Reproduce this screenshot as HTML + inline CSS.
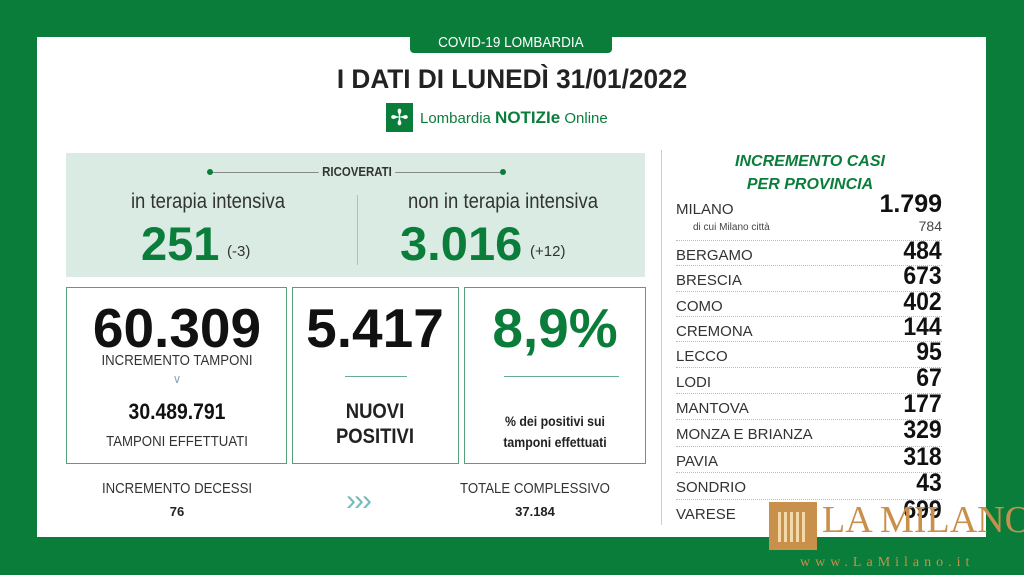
<!DOCTYPE html>
<html><head><meta charset="utf-8"><style>
body{margin:0;width:1024px;height:575px;background:#0b7d3b;position:relative;overflow:hidden;font-family:"Liberation Sans",sans-serif}
.a{position:absolute;white-space:nowrap}
.c{transform:translateX(-50%)}
.n{transform:translateX(-50%) scaleX(.88)}
.g{color:#0b7d3b}
.row{position:absolute;left:676px;width:266px;font-size:15px;color:#333;border-top:1px dotted #bbb;height:25px}
.row span{position:absolute;right:0;top:-4px;font-size:25px;font-weight:bold;color:#111;transform-origin:100% 0;transform:scaleX(.92)}
.row b{font-weight:normal;position:absolute;left:0;top:6px}
</style></head><body>
<div class="a" style="left:37px;top:37px;width:949px;height:500px;background:#fff"></div>
<div class="a" style="left:410px;top:33px;width:202px;height:20px;background:#0b7d3b;border-radius:0 0 4px 4px;color:#fff;font-size:15px;text-align:center;line-height:20px"><span style="display:inline-block;transform:scaleX(.9)">COVID-19 LOMBARDIA</span></div>
<div class="a c" style="left:512px;top:64px;font-size:27px;font-weight:bold;color:#222;transform:translateX(-50%) scaleX(.97)">I DATI DI LUNEDÌ 31/01/2022</div>
<div class="a" style="left:386px;top:103px;width:27px;height:29px;background:#0b7d3b;color:#fff;font-size:22px;text-align:center;line-height:29px">✢</div>
<div class="a" style="left:420px;top:108px;font-size:15px;color:#0b7d3b">Lombardia <b style="font-size:17px">NOTIZIe</b> Online</div>

<div class="a" style="left:66px;top:153px;width:579px;height:124px;background:#d9ebe3"></div>
<div class="a" style="left:212px;top:172px;width:290px;height:1px;background:#888"></div>
<div class="a" style="left:207px;top:169px;width:6px;height:6px;border-radius:50%;background:#0b7d3b"></div>
<div class="a" style="left:500px;top:169px;width:6px;height:6px;border-radius:50%;background:#0b7d3b"></div>
<div class="a n" style="left:357px;top:164px;background:#d9ebe3;padding:0 4px;font-size:13px;font-weight:bold;color:#333">RICOVERATI</div>
<div class="a" style="left:357px;top:195px;width:1px;height:70px;background:#bbb"></div>
<div class="a n" style="left:208px;top:190px;font-size:21px;color:#333">in terapia intensiva</div>
<div class="a n" style="left:503px;top:190px;font-size:21px;color:#333">non in terapia intensiva</div>
<div class="a g" style="left:141px;top:216px;font-size:47px;font-weight:bold">251</div>
<div class="a" style="left:227px;top:243px;font-size:15px;color:#333">(-3)</div>
<div class="a g" style="left:400px;top:216px;font-size:47px;font-weight:bold;transform-origin:0 0;transform:scaleX(1.04)">3.016</div>
<div class="a" style="left:530px;top:243px;font-size:15px;color:#333">(+12)</div>

<div class="a" style="left:66px;top:287px;width:219px;height:175px;border:1px solid #5a9f7c"></div>
<div class="a" style="left:292px;top:287px;width:165px;height:175px;border:1px solid #5a9f7c"></div>
<div class="a" style="left:464px;top:287px;width:180px;height:175px;border:1px solid #5a9f7c"></div>
<div class="a c" style="left:177px;top:296px;font-size:55px;font-weight:bold;color:#111">60.309</div>
<div class="a n" style="left:177px;top:352px;font-size:15px;color:#333">INCREMENTO TAMPONI</div>
<div class="a c" style="left:177px;top:372px;font-size:12px;color:#8ab">∨</div>
<div class="a n" style="left:177px;top:399px;font-size:22px;font-weight:bold;color:#111">30.489.791</div>
<div class="a n" style="left:177px;top:433px;font-size:15px;color:#333">TAMPONI EFFETTUATI</div>
<div class="a c" style="left:375px;top:296px;font-size:55px;font-weight:bold;color:#111">5.417</div>
<div class="a" style="left:345px;top:376px;width:62px;height:1px;background:#6a9"></div>
<div class="a n" style="left:375px;top:399px;font-size:21px;font-weight:bold;color:#222;text-align:center;line-height:25px">NUOVI<br>POSITIVI</div>
<div class="a c g" style="left:555px;top:296px;font-size:55px;font-weight:bold">8,9%</div>
<div class="a" style="left:504px;top:376px;width:115px;height:1px;background:#6a9"></div>
<div class="a n" style="left:555px;top:411px;font-size:14px;font-weight:bold;color:#222;text-align:center;line-height:21px">% dei positivi sui<br>tamponi effettuati</div>
<div class="a n" style="left:177px;top:480px;font-size:15px;color:#333">INCREMENTO DECESSI</div>
<div class="a c" style="left:177px;top:504px;font-size:13px;font-weight:bold;color:#222">76</div>
<div class="a c" style="left:358px;top:484px;font-size:30px;color:#7bb;letter-spacing:-2px">›››</div>
<div class="a n" style="left:535px;top:480px;font-size:15px;color:#333">TOTALE COMPLESSIVO</div>
<div class="a c" style="left:535px;top:504px;font-size:13px;font-weight:bold;color:#222">37.184</div>

<div class="a" style="left:661px;top:150px;width:1px;height:375px;background:#ccc"></div>
<div class="a c g" style="left:810px;top:150px;font-size:16px;font-weight:bold;font-style:italic;text-align:center;line-height:23px">INCREMENTO CASI<br>PER PROVINCIA</div>
<div class="a" style="left:676px;top:201px;font-size:15px;color:#333">MILANO</div>
<div class="a" style="left:870px;top:190px;width:72px;text-align:right;font-size:25px;font-weight:bold;color:#111">1.799</div>
<div class="a" style="left:693px;top:222px;font-size:10px;color:#444">di cui Milano città</div>
<div class="a" style="left:870px;top:218px;width:72px;text-align:right;font-size:14px;color:#444">784</div>
<div class="row" style="top:240px"><b>BERGAMO</b><span>484</span></div>
<div class="row" style="top:265px"><b>BRESCIA</b><span>673</span></div>
<div class="row" style="top:291px"><b>COMO</b><span>402</span></div>
<div class="row" style="top:316px"><b>CREMONA</b><span>144</span></div>
<div class="row" style="top:341px"><b>LECCO</b><span>95</span></div>
<div class="row" style="top:367px"><b>LODI</b><span>67</span></div>
<div class="row" style="top:393px"><b>MANTOVA</b><span>177</span></div>
<div class="row" style="top:419px"><b>MONZA E BRIANZA</b><span>329</span></div>
<div class="row" style="top:446px"><b>PAVIA</b><span>318</span></div>
<div class="row" style="top:472px"><b>SONDRIO</b><span>43</span></div>
<div class="row" style="top:499px"><b>VARESE</b><span>699</span></div>

<div class="a" style="left:769px;top:502px;width:48px;height:48px;background:#c8904a"></div>
<div class="a" style="left:778px;top:512px;width:30px;height:30px;background:repeating-linear-gradient(90deg,#f3d9a8 0 3px,#c8904a 3px 6px)"></div>
<div class="a" style="left:822px;top:498px;font-family:'Liberation Serif',serif;font-size:38px;color:#c8904a">LA MILANO</div>
<div class="a" style="left:800px;top:555px;font-family:'Liberation Serif',serif;font-size:14px;letter-spacing:5px;color:#c8904a">www.LaMilano.it</div>
</body></html>
